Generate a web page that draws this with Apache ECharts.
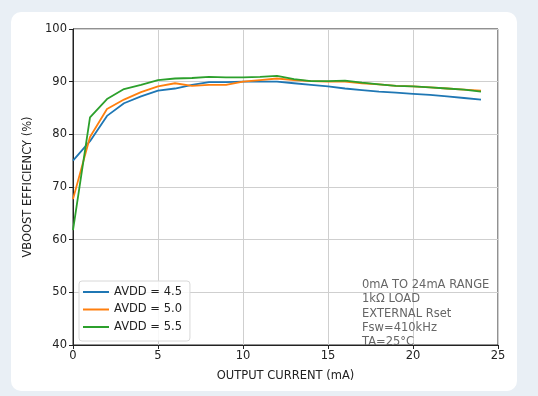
<!DOCTYPE html>
<html><head><meta charset="utf-8">
<script src="https://cdn.jsdelivr.net/npm/echarts@6/dist/echarts.min.js"></script>
<style>
html,body{margin:0;padding:0;}
body{width:538px;height:396px;background:#e9eff5;position:relative;overflow:hidden;}
#card{position:absolute;left:11px;top:12px;width:506px;height:379px;background:#fff;border-radius:10px;}
#chart{position:absolute;left:0;top:0;width:538px;height:396px;}
</style></head>
<body><div id="card"></div><div id="chart"></div>
<script>
const currents = [0,1,2,3,4,5,6,7,8,9,10,11,12,13,14,15,16,17,18,19,20,21,22,23,24];
const avdd45 = [75.0,78.7,83.5,85.9,87.2,88.3,88.7,89.4,89.9,89.9,90.0,90.0,90.0,89.7,89.4,89.1,88.7,88.4,88.1,87.9,87.7,87.5,87.2,86.9,86.6];
const avdd50 = [67.7,79.5,84.8,86.6,88.0,89.1,89.7,89.2,89.4,89.4,90.0,90.3,90.6,90.3,90.1,90.0,90.0,89.7,89.5,89.2,89.1,88.9,88.7,88.5,88.3];
const avdd55 = [61.8,83.2,86.7,88.6,89.4,90.3,90.6,90.7,90.9,90.8,90.8,90.9,91.1,90.5,90.1,90.1,90.2,89.8,89.5,89.2,89.1,88.9,88.7,88.5,88.1];
const seriesNames = ['AVDD = 4.5','AVDD = 5.0','AVDD = 5.5'];
const xTicks = [0,5,10,15,20,25];
const yTicks = [40,50,60,70,80,90,100];
const noteLines = ['0mA TO 24mA RANGE','1k\u03A9 LOAD','EXTERNAL Rset','Fsw=410kHz','TA=25\u00B0C'];
const colors = ['#1f77b4','#ff7f0e','#2ca02c'];
const font = 'DejaVu Sans';

const chart = echarts.init(document.getElementById('chart'));
const mk = (name, vals, c) => ({
  name, type:'line', data: currents.map((x,i)=>[x, vals[i]]),
  showSymbol:false, symbol:'none', lineStyle:{color:c,width:1.8}, itemStyle:{color:c}, animation:false, z:3
});
chart.setOption({
  animation:false,
  grid:{left:73,top:29,right:40,bottom:51,show:true,borderColor:'#222',borderWidth:1,backgroundColor:'transparent'},
  xAxis:{type:'value',min:xTicks[0],max:xTicks[xTicks.length-1],interval:5,
    name:'OUTPUT CURRENT (mA)',nameLocation:'middle',nameGap:25,
    nameTextStyle:{fontFamily:font,fontSize:11.5,color:'#222'},
    axisLine:{show:true,lineStyle:{color:'#222',width:1}},
    axisTick:{show:true,inside:false,length:4,lineStyle:{color:'#222'}},
    axisLabel:{fontFamily:font,fontSize:11.5,color:'#222',margin:5},
    splitLine:{show:true,lineStyle:{color:'#cfcfcf',width:1}}},
  yAxis:{type:'value',min:yTicks[0],max:yTicks[yTicks.length-1],interval:10,
    name:'VBOOST EFFICIENCY (%)',nameLocation:'middle',nameGap:33,
    nameTextStyle:{fontFamily:font,fontSize:11.5,color:'#222'},
    axisLine:{show:true,lineStyle:{color:'#222',width:1}},
    axisTick:{show:true,inside:false,length:4,lineStyle:{color:'#222'}},
    axisLabel:{fontFamily:font,fontSize:11.5,color:'#222',margin:6},
    splitLine:{show:true,lineStyle:{color:'#cfcfcf',width:1}}},
  legend:{orient:'vertical',left:79,top:281,data:seriesNames,
    icon:'rect',itemWidth:26,itemHeight:2,itemGap:5.5,
    backgroundColor:'rgba(255,255,255,0.85)',borderColor:'#d8d8d8',borderWidth:1,borderRadius:3,
    padding:[5,8,8,4],
    textStyle:{fontFamily:font,fontSize:11.5,color:'#222'}},
  graphic:[{type:'text',left:362,top:278,z:10,
    style:{text:noteLines.join('\n'),font:'11.5px "DejaVu Sans"',fill:'#666',lineHeight:14.3}}],
  series:[mk(seriesNames[0],avdd45,colors[0]),mk(seriesNames[1],avdd50,colors[1]),mk(seriesNames[2],avdd55,colors[2])]
});
</script></body></html>
